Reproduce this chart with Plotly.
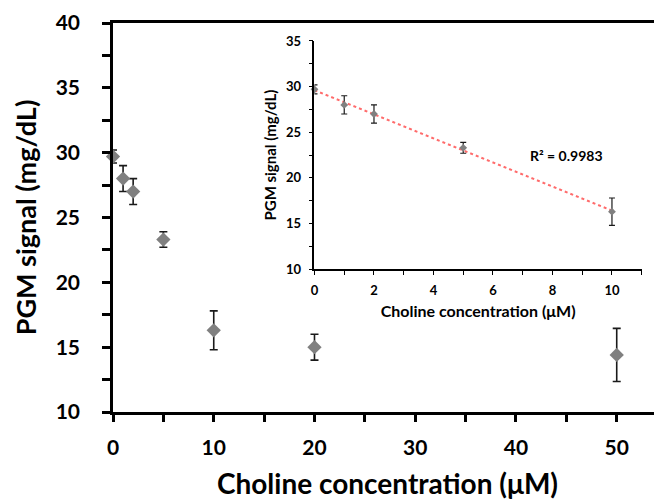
import numpy as np
import plotly.graph_objects as go

# Main data
conc = [0, 1, 2, 5, 10, 20, 50]
signal = [29.7, 28.0, 27.0, 23.3, 16.3, 15.0, 14.4]
err = [0.5, 1.0, 1.0, 0.6, 1.5, 1.0, 2.05]

# Inset (linear range)
conc_in = [0, 1, 2, 5, 10]
signal_in = [29.7, 28.0, 27.0, 23.3, 16.3]
err_in = [0.5, 1.0, 1.0, 0.6, 1.5]
r2_text = "R² = 0.9983"

xtitle = "Choline concentration (μM)"
ytitle = "PGM signal (mg/dL)"

slope, intercept = np.polyfit(conc_in, signal_in, 1)
fit_x = [min(conc_in), max(conc_in)]
fit_y = [intercept + slope * v for v in fit_x]

FONT = "Lato"
OFF = 8  # page body margin
W, H = 654, 492
# target plot-area in page pixels
PL, PT, PB, PR = 112.7, 22.7, 412.3, 662
ml, mt = PL - OFF, PT - OFF
mr = (W + OFF) - PR
mb = (H + OFF) - PB
pw, ph = PR - PL, PB - PT

fig = go.Figure()
fig.add_trace(go.Scatter(
    x=conc, y=signal, mode="markers",
    marker=dict(symbol="diamond", size=11, color="#808080"),
    error_y=dict(type="data", array=err, color="#1a1a1a", thickness=1.6, width=4),
    showlegend=False, cliponaxis=False))

fig.add_trace(go.Scatter(
    x=fit_x, y=fit_y, mode="lines", xaxis="x2", yaxis="y2",
    line=dict(color="#ff6b6b", width=2, dash="dot"), showlegend=False))
fig.add_trace(go.Scatter(
    x=conc_in, y=signal_in, mode="markers", xaxis="x2", yaxis="y2",
    marker=dict(symbol="diamond", size=6, color="#808080"),
    error_y=dict(type="data", array=err_in, color="#1a1a1a", thickness=1.2, width=3),
    showlegend=False, cliponaxis=False))

def px_x(p):
    return (p - PL) / pw

def px_y(p):
    return (PB - p) / ph

fig.update_layout(
    width=W, height=H,
    margin=dict(l=ml, r=mr, t=mt, b=mb, autoexpand=False),
    plot_bgcolor="white", paper_bgcolor="white",
    font=dict(family=FONT, color="#000"),
    xaxis=dict(range=[0, pw / 10.08], dtick=10, tick0=0, showgrid=False, zeroline=False,
               showline=True, linecolor="#000", linewidth=2.5, mirror=True,
               ticks="outside", ticklen=7, tickwidth=2.5, tickcolor="#000",
               ticklabelstandoff=8,
               minor=dict(dtick=5, ticks="outside", ticklen=7, tickwidth=2.5, tickcolor="#000"),
               tickfont=dict(size=21, family=FONT, weight="bold"),
               title=dict(text=xtitle, font=dict(size=28, family=FONT, weight="bold"), standoff=17)),
    yaxis=dict(range=[10, 40], dtick=5, showgrid=False, zeroline=False,
               showline=True, linecolor="#000", linewidth=2.5,
               ticks="outside", ticklen=8, tickwidth=2.5, tickcolor="#000",
               ticklabelstandoff=18,
               minor=dict(dtick=2.5, ticks="outside", ticklen=8, tickwidth=2.5, tickcolor="#000"),
               tickfont=dict(size=21, family=FONT, weight="bold"),
               title=dict(text=ytitle, font=dict(size=27, family=FONT, weight="bold"), standoff=12)),
    xaxis2=dict(domain=[px_x(314.3), px_x(641.7)], anchor="y2", range=[0, 11], dtick=2,
                showgrid=False, zeroline=False, showline=True, linecolor="#000", linewidth=1.5,
                ticks="outside", ticklen=4, tickwidth=1.2, tickcolor="#000",
                ticklabelstandoff=4,
                minor=dict(dtick=1, ticks="outside", ticklen=4, tickwidth=1.2, tickcolor="#000"),
                tickfont=dict(size=13, family=FONT, weight="bold"),
                title=dict(text=xtitle, font=dict(size=16, family=FONT, weight="bold"), standoff=9)),
    yaxis2=dict(domain=[px_y(269.3), px_y(40.7)], anchor="x2", range=[10, 35], dtick=5,
                showgrid=False, zeroline=False, showline=True, linecolor="#000", linewidth=1.5,
                ticks="outside", ticklen=4, tickwidth=1.2, tickcolor="#000",
                ticklabelstandoff=5,
                minor=dict(dtick=2.5, ticks="outside", ticklen=4, tickwidth=1.2, tickcolor="#000"),
                tickfont=dict(size=13, family=FONT, weight="bold"),
                title=dict(text=ytitle, font=dict(size=15, family=FONT, weight="bold"), standoff=6)),
    annotations=[dict(text=r2_text, xref="x2", yref="y2", x=8.47, y=22.5,
                      showarrow=False, font=dict(size=14, family=FONT, weight="bold"))],
)

fig.write_html("out.html")
